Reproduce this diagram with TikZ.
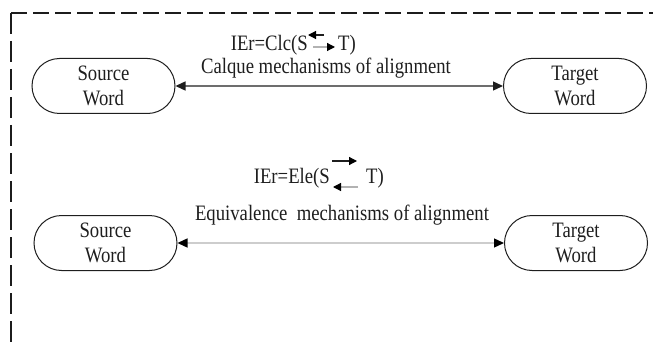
\documentclass[tikz,border=0pt]{standalone}
\usepackage{fontspec}
\setmainfont{Liberation Serif}[FakeStretch=0.85]
\usetikzlibrary{arrows.meta, calc, shapes.misc}
\definecolor{inkgray}{HTML}{1E1E1E}
\definecolor{lightln}{HTML}{B2B2B2}
\definecolor{frameblk}{HTML}{1C1C1C}

\begin{document}
\begin{tikzpicture}[x=1pt, y=-1pt,
  >={Triangle[length=10pt, width=9pt]},
  wordbox/.style={draw=inkgray, line width=1pt, rounded rectangle,
    minimum width=143pt, minimum height=55pt, inner sep=0pt,
    align=center, text=inkgray, font=\fontsize{22}{25}\selectfont},
  lbl/.style={text=inkgray, inner sep=0pt, font=\fontsize{22}{25}\selectfont},
  tiny/.style={line width=1.2pt, -{Triangle[length=8pt, width=8pt, color=black]}}]

\useasboundingbox (0,0) rectangle (653,342);

% Dashed frame, open to the right and bottom
\draw[frameblk, line width=1.8pt, dash pattern=on 16pt off 6pt] (11,13) -- (660,13);
\draw[frameblk, line width=1.8pt, dash pattern=on 21pt off 7pt] (11,13) -- (11,350);

% ============================================================
% Upper row: calque
% ============================================================
\node[wordbox] (srcA) at (103.5,86) {Source\\Word};
\node[wordbox] (tgtA) at (575,86) {Target\\Word};

\node[lbl, anchor=base east] (clcL) at (308,51) {IEr=Clc(S};
\node[lbl, anchor=base west] (clcR) at (338,51) {T)};
\node[lbl, anchor=base] (clcTxt) at (326,74) {Calque mechanisms of alignment};

% small arrows inside the formula
\draw[tiny, inkgray] ($(clcL.base east)+(16,-16)$) -- ($(clcL.base east)+(0,-16)$);
\draw[tiny, lightln] ($(clcL.base east)+(5,-4)$) -- ($(clcR.base west)+(-3,-4)$);

\draw[inkgray, line width=1.3pt, <->] (srcA) -- (tgtA);

% ============================================================
% Lower row: equivalence
% ============================================================
\node[wordbox] (srcB) at (105.5,243) {Source\\Word};
\node[wordbox] (tgtB) at (576,243) {Target\\Word};

\node[lbl, anchor=base east] (eleL) at (330,183) {IEr=Ele(S};
\node[lbl, anchor=base west] (eleR) at (366,183) {T)};
\node[lbl, anchor=base] (eleTxt) at (342,220) {Equivalence\ \ mechanisms of alignment};

% small arrows inside the formula
\draw[tiny, inkgray] ($(eleL.base east)+(2,-22)$) -- ($(eleL.base east)+(27,-22)$);
\draw[tiny, lightln] ($(eleR.base west)+(-8,4)$) -- ($(eleL.base east)+(3,4)$);

\draw[lightln, line width=1.3pt, {Triangle[length=10pt, width=9pt, color=black]}-{Triangle[length=10pt, width=9pt, color=black]}] (srcB) -- (tgtB);

\end{tikzpicture}
\end{document}
